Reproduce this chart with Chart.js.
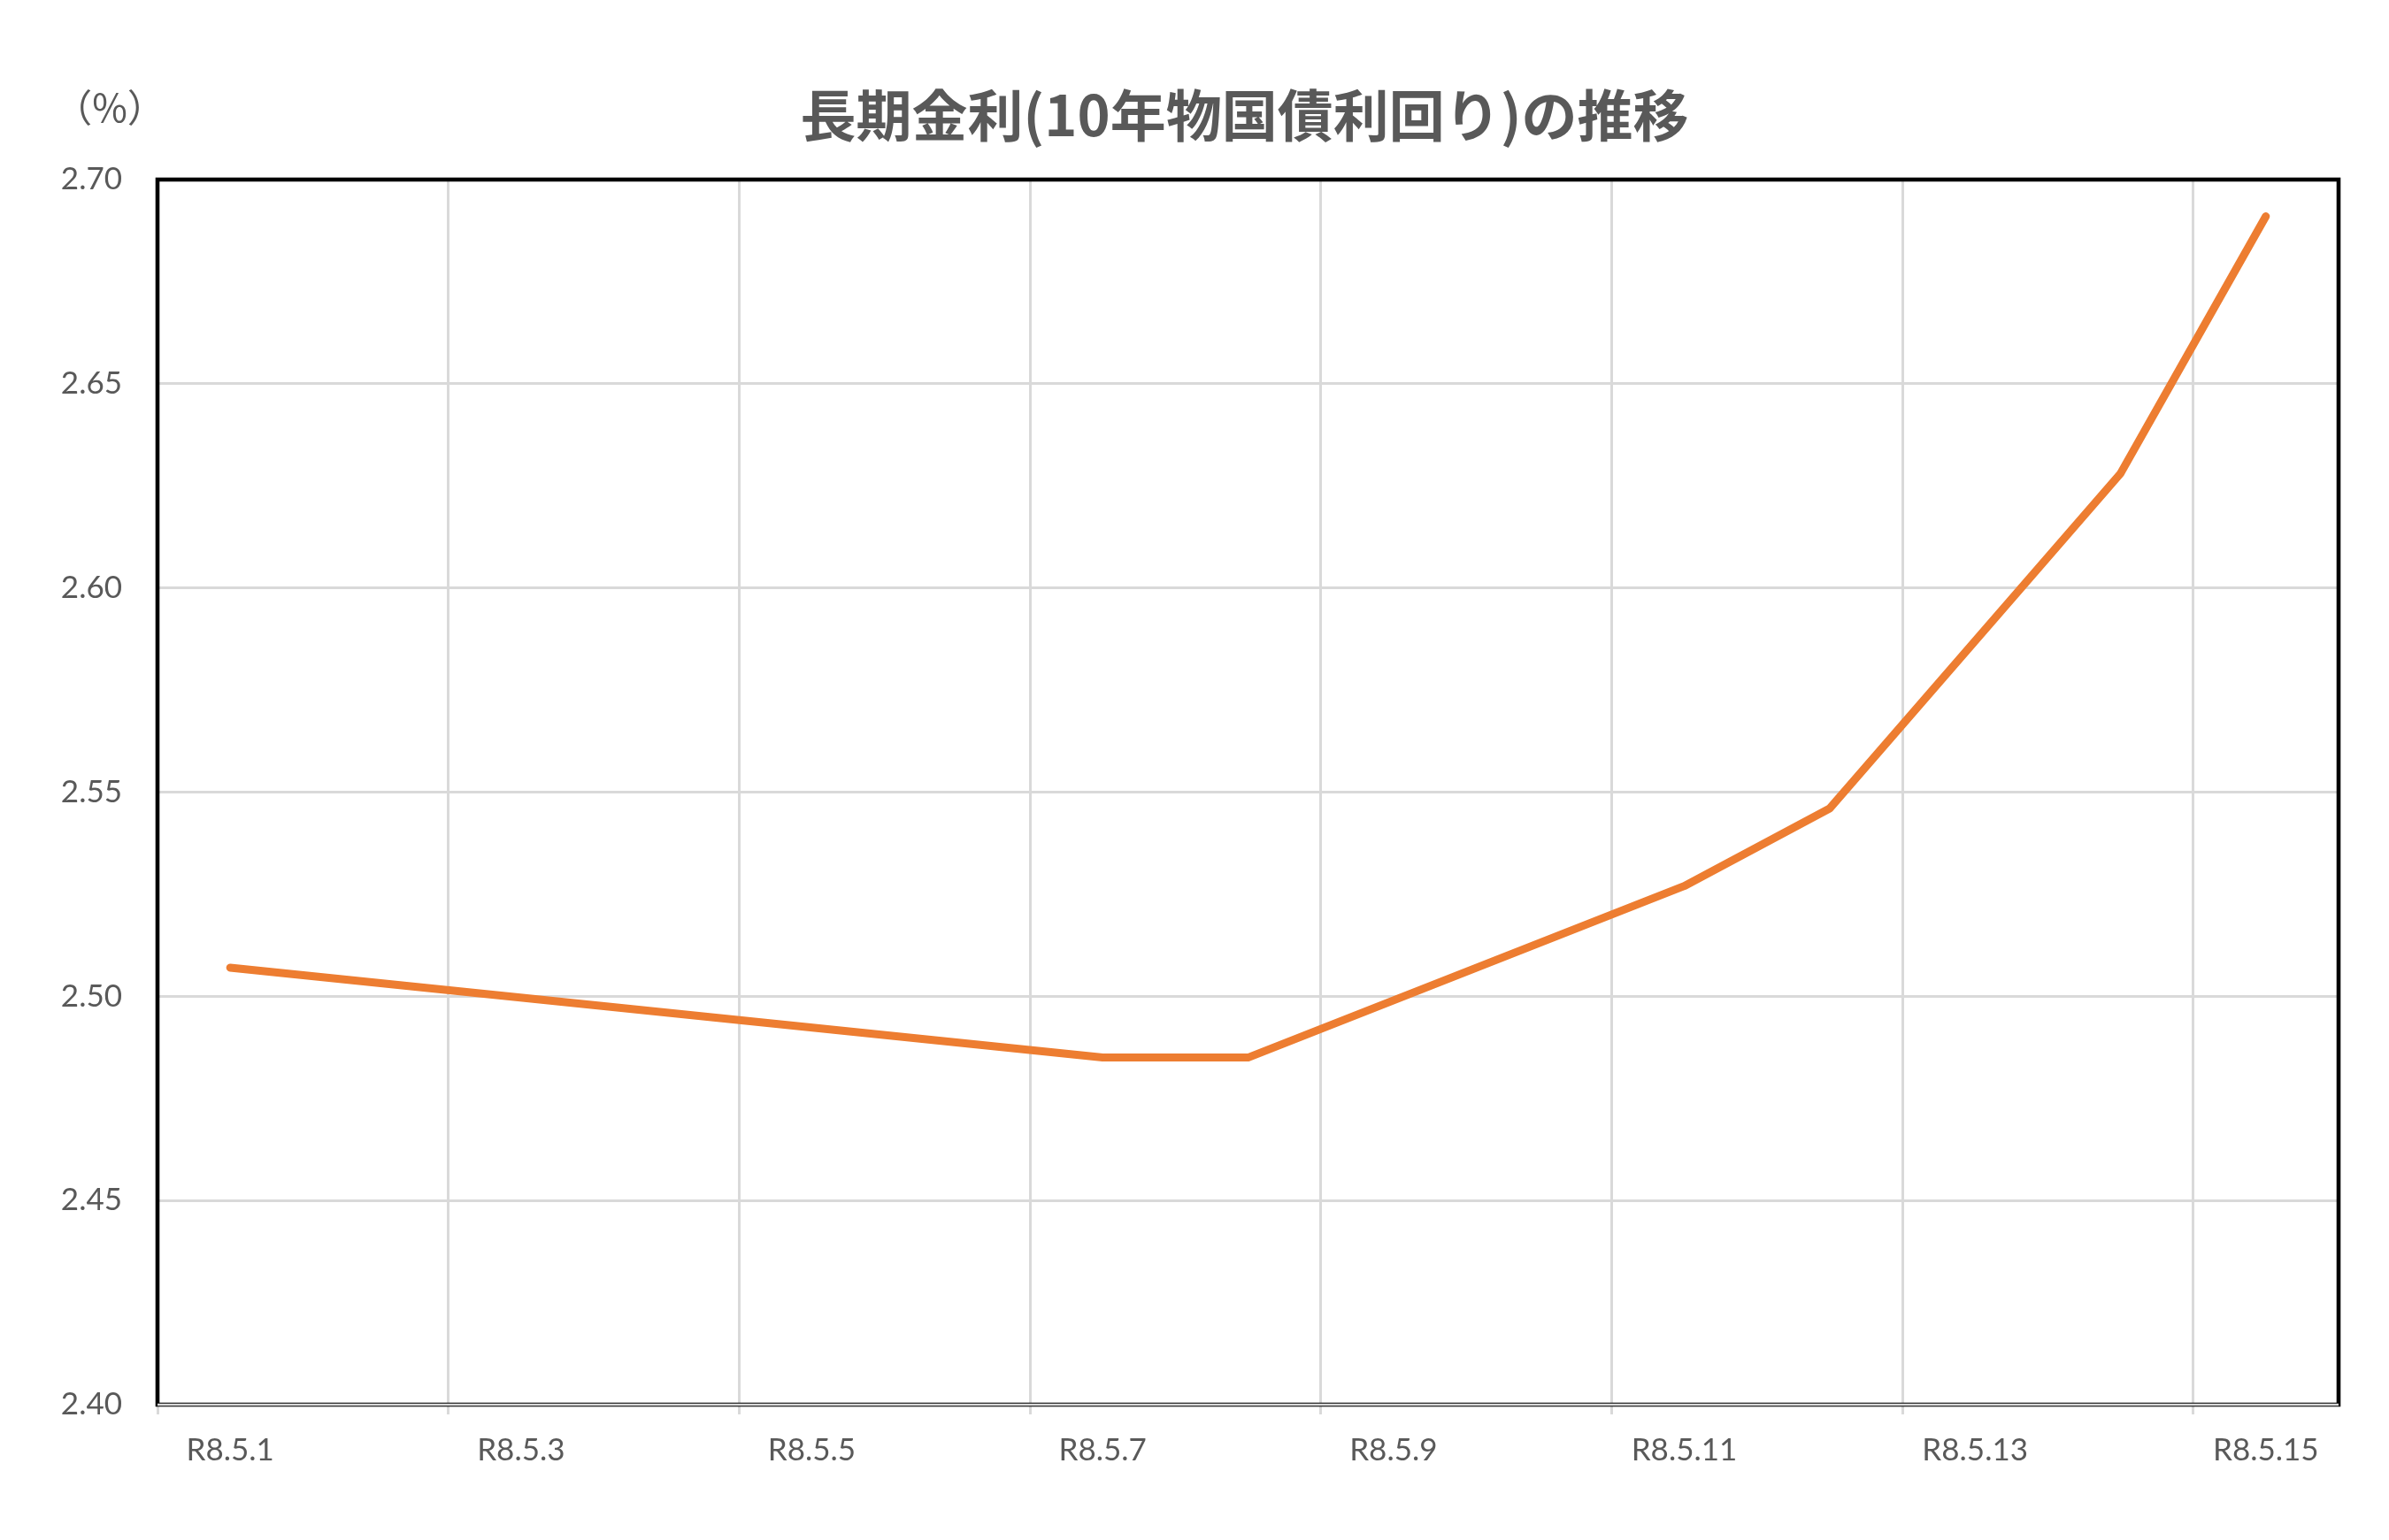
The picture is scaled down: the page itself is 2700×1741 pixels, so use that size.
<!DOCTYPE html>
<html>
<head>
<meta charset="utf-8">
<script src="https://cdn.jsdelivr.net/npm/chart.js@4.4.1/dist/chart.umd.min.js"></script>
<style>
  html, body { margin: 0; padding: 0; background: #fff; }
</style>
</head>
<body>
<canvas id="chart" width="2700" height="1741"></canvas>
<script>
// data
const dates = ['R8.5.1', 'R8.5.2', 'R8.5.3', 'R8.5.4', 'R8.5.5', 'R8.5.6', 'R8.5.7', 'R8.5.8',
               'R8.5.9', 'R8.5.10', 'R8.5.11', 'R8.5.12', 'R8.5.13', 'R8.5.14', 'R8.5.15'];
const yields = [2.507, null, null, null, null, null, 2.485, 2.485, null, null, 2.527, 2.546, null, 2.628, 2.691];
const yMin = 2.40;
const yMax = 2.70;
const yStep = 0.05;
const chartTitle = '長期金利(10年物国債利回り)の推移';
const unitLabel = '（%）';

const textGray = '#595959';
const gridGray = '#D9D9D9';
const numFont = 'Lato';

// only every second category gets a label, grid line and tick mark
const everyOther = (c) => (c.index % 2 === 0 ? gridGray : 'rgba(0,0,0,0)');

// plot frame, unit label and title
const decorations = {
  id: 'decorations',
  beforeDatasetsDraw(chart) {
    const { ctx, chartArea: a } = chart;
    ctx.save();
    ctx.strokeStyle = '#000';
    ctx.lineWidth = 4.6;
    ctx.strokeRect(a.left, a.top, a.right - a.left, a.bottom - a.top);
    ctx.strokeStyle = gridGray;
    ctx.lineWidth = 2.7;
    ctx.beginPath();
    ctx.moveTo(a.left, a.bottom);
    ctx.lineTo(a.right, a.bottom);
    ctx.stroke();
    ctx.restore();
  },
  afterDraw(chart) {
    const { ctx, chartArea: a } = chart;
    ctx.save();
    ctx.fillStyle = textGray;
    ctx.textAlign = 'center';
    ctx.textBaseline = 'middle';
    ctx.font = 'bold 63px "Noto Sans CJK JP"';
    ctx.fillText(chartTitle, (a.left + a.right) / 2 - 4, 130);
    ctx.font = '43px "Noto Sans CJK JP"';
    ctx.fillText(unitLabel, 124, 122);
    ctx.restore();
  }
};

new Chart(document.getElementById('chart').getContext('2d'), {
  type: 'line',
  data: {
    labels: dates,
    datasets: [{
      data: yields,
      borderColor: '#ED7D31',
      borderWidth: 9,
      borderCapStyle: 'round',
      borderJoinStyle: 'round',
      pointRadius: 0,
      spanGaps: true,
      tension: 0
    }]
  },
  options: {
    responsive: false,
    devicePixelRatio: 1,
    animation: false,
    layout: { padding: { top: 203, right: 57, left: 0, bottom: 0 } },
    plugins: { legend: { display: false }, tooltip: { enabled: false }, title: { display: false } },
    scales: {
      x: {
        type: 'category',
        offset: true,
        afterFit: (s) => { s.height = 153; },
        border: { display: false },
        grid: { offset: true, color: everyOther, tickColor: everyOther, lineWidth: 3, tickLength: 11 },
        ticks: {
          autoSkip: false,
          maxRotation: 0,
          padding: 20,
          color: textGray,
          font: { family: numFont, size: 35 },
          callback: (v, i) => (i % 2 === 0 ? dates[i] : '')
        }
      },
      y: {
        min: yMin,
        max: yMax,
        afterFit: (s) => { s.width = 178; },
        border: { display: false },
        grid: { color: gridGray, lineWidth: 3, drawTicks: false },
        ticks: {
          stepSize: yStep,
          padding: 40,
          color: textGray,
          font: { family: numFont, size: 35 },
          callback: (v) => v.toFixed(2)
        }
      }
    }
  },
  plugins: [decorations]
});
</script>
</body>
</html>
